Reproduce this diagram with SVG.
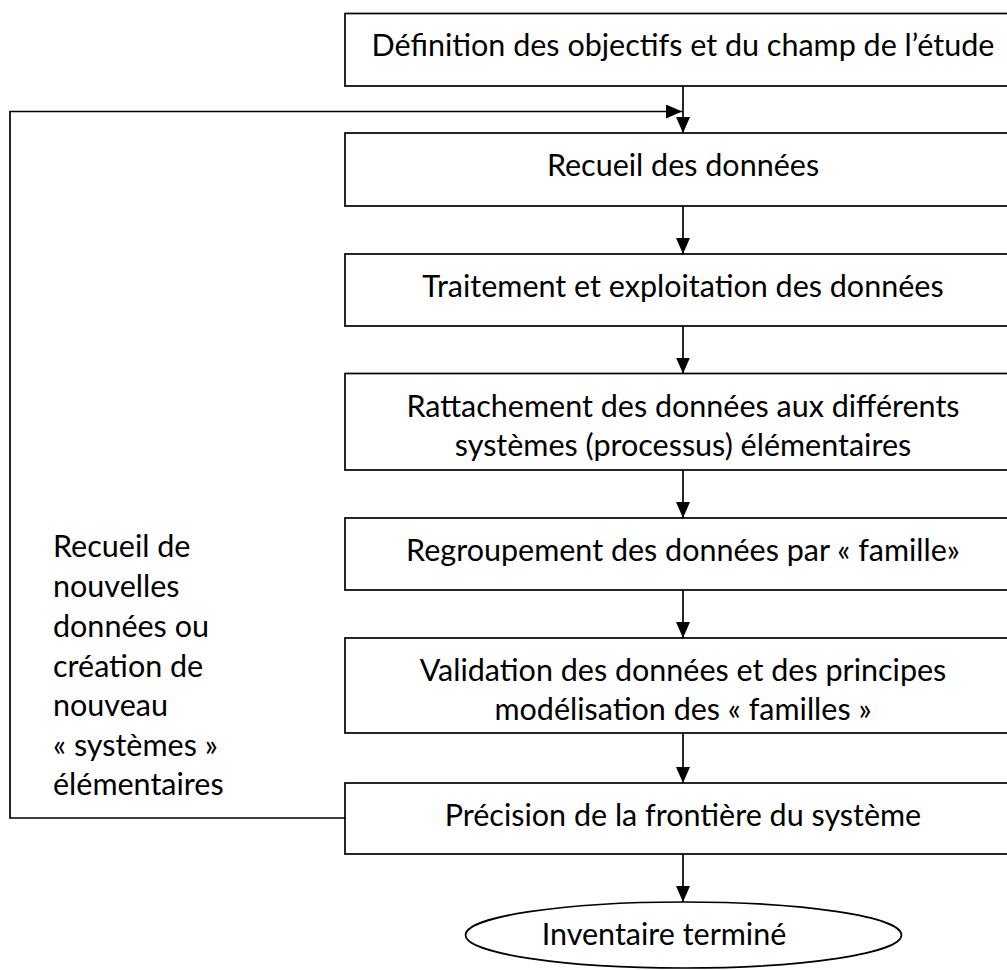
<svg xmlns="http://www.w3.org/2000/svg" width="1007" height="970" viewBox="0 0 1007 970">
<style>
.box{fill:#fff;stroke:#000;stroke-width:1.7}
.ln{fill:none;stroke:#000;stroke-width:1.7}
text{font-family:Lato,"Open Sans","Liberation Sans",sans-serif;font-size:30.5px;fill:#000}
.c{text-anchor:middle}
</style>
<defs>
<marker id="ah" viewBox="0 0 16 14" refX="16" refY="7" markerWidth="16" markerHeight="14" markerUnits="userSpaceOnUse" orient="auto">
<path d="M0,0 L16,7 L0,14 z" fill="#000"/>
</marker>
</defs>
<rect width="1007" height="970" fill="#fff"/>
<g id="connectors">
<line class="ln" x1="683" y1="86" x2="683" y2="133" marker-end="url(#ah)"/>
<line class="ln" x1="683" y1="206" x2="683" y2="254" marker-end="url(#ah)"/>
<line class="ln" x1="683" y1="326" x2="683" y2="373.5" marker-end="url(#ah)"/>
<line class="ln" x1="683" y1="470" x2="683" y2="518" marker-end="url(#ah)"/>
<line class="ln" x1="683" y1="590" x2="683" y2="638" marker-end="url(#ah)"/>
<line class="ln" x1="683" y1="733" x2="683" y2="783" marker-end="url(#ah)"/>
<line class="ln" x1="683" y1="854" x2="683" y2="902" marker-end="url(#ah)"/>
<path class="ln" d="M345,818 H10 V111.5 H682" marker-end="url(#ah)"/>
</g>
<g id="n1"><rect class="box" x="345" y="13.5" width="676" height="72.5"/><text class="c" x="683" y="56">Définition des objectifs et du champ de l’étude</text></g>
<g id="n2"><rect class="box" x="345" y="133" width="676" height="73"/><text class="c" x="683" y="176">Recueil des données</text></g>
<g id="n3"><rect class="box" x="345" y="254" width="676" height="72"/><text class="c" x="683" y="297">Traitement et exploitation des données</text></g>
<g id="n4"><rect class="box" x="345" y="373.5" width="676" height="96.5"/><text class="c" x="683" y="417">Rattachement des données aux différents</text><text class="c" x="683" y="456">systèmes (processus) élémentaires</text></g>
<g id="n5"><rect class="box" x="345" y="518" width="676" height="72"/><text class="c" x="683" y="561">Regroupement des données par « famille»</text></g>
<g id="n6"><rect class="box" x="345" y="638" width="676" height="95"/><text class="c" x="683" y="681">Validation des données et des principes</text><text class="c" x="683" y="720">modélisation des « familles »</text></g>
<g id="n7"><rect class="box" x="345" y="783" width="676" height="71"/><text class="c" x="683" y="826">Précision de la frontière du système</text></g>
<g id="n8"><ellipse class="box" cx="683.5" cy="935" rx="218" ry="33"/><text class="c" x="664" y="945">Inventaire terminé</text></g>
<g id="label">
<text x="53" y="557">Recueil de</text>
<text x="53" y="597">nouvelles</text>
<text x="53" y="637">données ou</text>
<text x="53" y="677">création de</text>
<text x="53" y="716">nouveau</text>
<text x="53" y="756">« systèmes »</text>
<text x="53" y="795">élémentaires</text>
</g>
</svg>
